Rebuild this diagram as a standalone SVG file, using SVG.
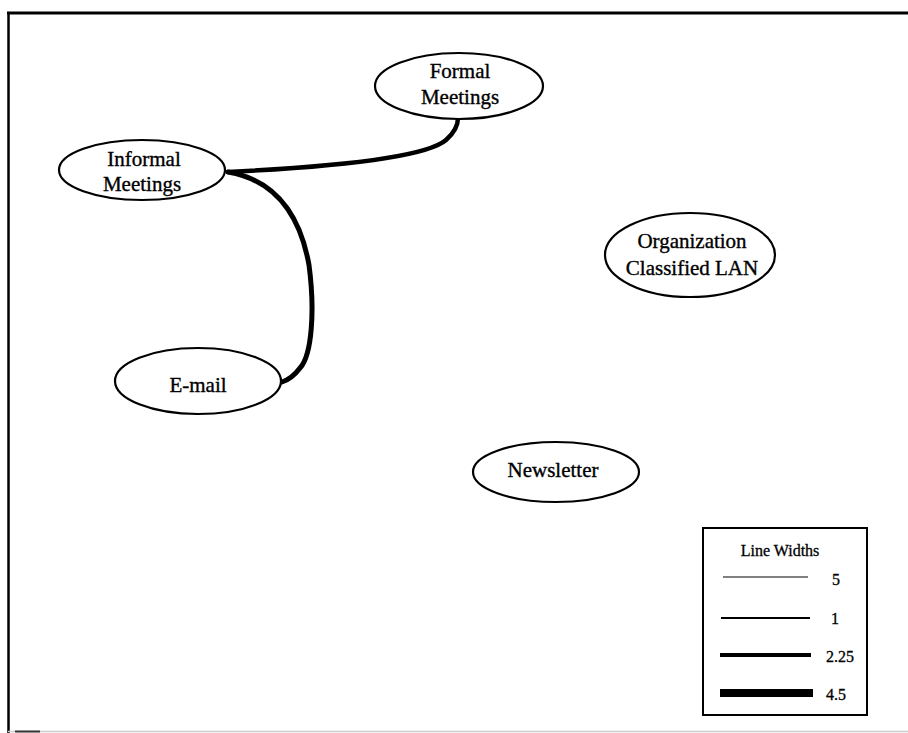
<svg xmlns="http://www.w3.org/2000/svg" width="908" height="733" viewBox="0 0 908 733">
<style>
.node ellipse{fill:#fff;stroke:#000;stroke-width:2.2}
.lbl{font-family:"Liberation Serif","Times New Roman",serif;font-size:21px;fill:#000;stroke:#000;stroke-width:0.35;text-anchor:middle}
.leg{font-family:"Liberation Serif","Times New Roman",serif;font-size:16px;fill:#000;stroke:#000;stroke-width:0.3}
.conn{fill:none;stroke:#000;stroke-linecap:round}
</style>
<rect width="908" height="733" fill="#fff"/>
<g id="frame">
<line x1="7" y1="13" x2="908" y2="13" stroke="#000" stroke-width="3"/>
<line x1="8.5" y1="12" x2="8.5" y2="733" stroke="#000" stroke-width="2.5"/>
<line x1="8" y1="731.5" x2="908" y2="731.5" stroke="#ccc" stroke-width="1.5"/>
<line x1="15" y1="731.5" x2="40" y2="731.5" stroke="#333" stroke-width="2"/>
</g>
<g id="connectors">
<path class="conn" d="M228,172 C330,167 425,158 446,140 C454,133 458,126 458,118" stroke-width="4.5"/>
<path class="conn" d="M228,172 C275,180 300,215 309,265 C315,310 312,355 300,368 C294,376 288,380 282,382" stroke-width="5"/>
</g>
<g id="formal" class="node">
<ellipse cx="459" cy="86" rx="84" ry="33"/>
<text class="lbl" x="460" y="78">Formal</text>
<text class="lbl" x="460" y="104">Meetings</text>
</g>
<g id="informal" class="node">
<ellipse cx="142" cy="170" rx="83" ry="30"/>
<text class="lbl" x="144" y="166">Informal</text>
<text class="lbl" x="142" y="191">Meetings</text>
</g>
<g id="org" class="node">
<ellipse cx="690" cy="255" rx="85" ry="42"/>
<text class="lbl" x="692" y="248">Organization</text>
<text class="lbl" x="692" y="275">Classified LAN</text>
</g>
<g id="email" class="node">
<ellipse cx="198" cy="381" rx="83" ry="33"/>
<text class="lbl" x="198" y="392">E-mail</text>
</g>
<g id="newsletter" class="node">
<ellipse cx="556" cy="472" rx="83" ry="30"/>
<text class="lbl" x="553" y="477">Newsletter</text>
</g>
<g id="legend">
<rect x="703" y="528" width="164" height="187" fill="#fff" stroke="#000" stroke-width="2"/>
<text class="leg" x="780" y="556" text-anchor="middle" font-size="17">Line Widths</text>
<line x1="723" y1="577" x2="808" y2="577" stroke="#000" stroke-width="1"/>
<text class="leg" x="832" y="585">5</text>
<line x1="721" y1="618" x2="810" y2="618" stroke="#000" stroke-width="2"/>
<text class="leg" x="831" y="624">1</text>
<line x1="720" y1="655" x2="811" y2="655" stroke="#000" stroke-width="4"/>
<text class="leg" x="826" y="662">2.25</text>
<line x1="720" y1="693" x2="813" y2="693" stroke="#000" stroke-width="8"/>
<text class="leg" x="826" y="700">4.5</text>
</g>
</svg>
